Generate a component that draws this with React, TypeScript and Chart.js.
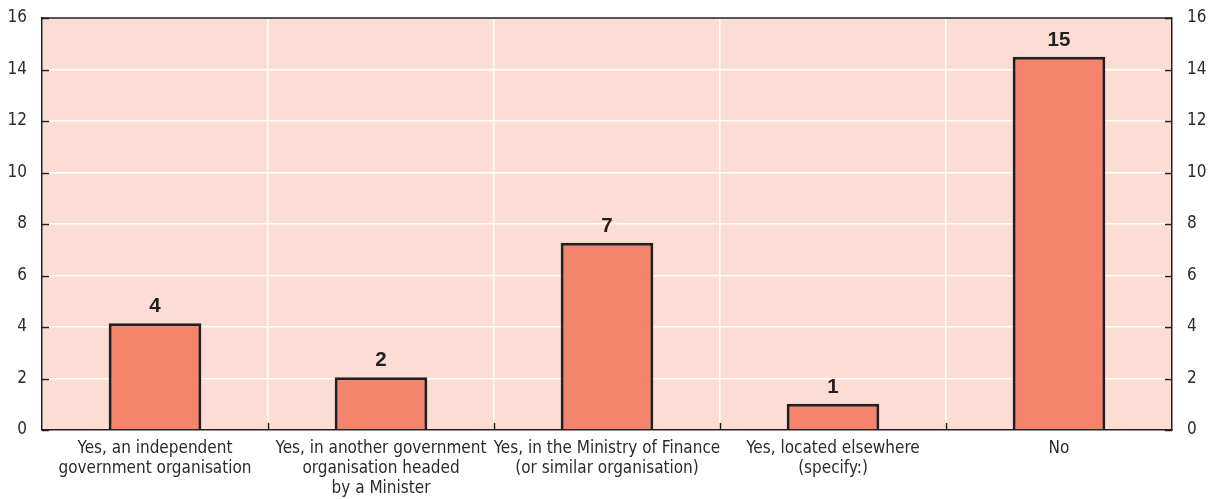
import React, { useEffect, useRef } from "react";
import { Chart, registerables } from "chart.js";

Chart.register(...registerables);

const categories: string[][] = [
  ["Yes, an independent", "government organisation"],
  ["Yes, in another government", "organisation headed", "by a Minister"],
  ["Yes, in the Ministry of Finance", "(or similar organisation)"],
  ["Yes, located elsewhere", "(specify:)"],
  ["No"],
];
const barValues: number[] = [4.15, 2.05, 7.27, 1.02, 14.5];
const barLabels: string[] = ["4", "2", "7", "1", "15"];
const yMin = 0;
const yMax = 16;
const yStep = 2;

const FONT = "'Liberation Sans Narrow', 'Arial Narrow', 'DejaVu Sans Condensed', sans-serif";
const BG = "#FCDDD3";
const BAR = "#F4846C";
const DARK = "#231F20";
const TEXT = "#2B2B2B";

export default function App() {
  const ref = useRef<HTMLCanvasElement | null>(null);

  useEffect(() => {
    if (!ref.current) return;
    document.body.style.margin = "0";

    const decor = {
      id: "decor",
      beforeDraw(chart: any) {
        const { ctx, chartArea: a } = chart;
        ctx.save();
        ctx.fillStyle = BG;
        ctx.fillRect(a.left, a.top, a.right - a.left, a.bottom - a.top);
        ctx.restore();
      },
      afterDraw(chart: any) {
        const { ctx, chartArea: a } = chart;
        const y = chart.scales.y;
        const x = chart.scales.x;
        ctx.save();
        ctx.strokeStyle = DARK;
        ctx.lineWidth = 1.5;
        ctx.beginPath();
        ctx.moveTo(a.left, a.top);
        ctx.lineTo(a.right, a.top);
        ctx.stroke();
        y.ticks.forEach((t: any) => {
          const py = Math.round(y.getPixelForValue(t.value)) + 0.5;
          ctx.beginPath();
          ctx.moveTo(a.left, py);
          ctx.lineTo(a.left + 7, py);
          ctx.moveTo(a.right, py);
          ctx.lineTo(a.right - 7, py);
          ctx.stroke();
        });
        for (let i = 1; i < categories.length; i++) {
          const px = Math.round((x.getPixelForValue(i - 1) + x.getPixelForValue(i)) / 2) + 0.5;
          ctx.beginPath();
          ctx.moveTo(px, a.bottom);
          ctx.lineTo(px, a.bottom - 7);
          ctx.stroke();
        }
        ctx.restore();
      },
      afterDatasetsDraw(chart: any) {
        const { ctx } = chart;
        const meta = chart.getDatasetMeta(0);
        ctx.save();
        ctx.fillStyle = DARK;
        ctx.font = "bold 20.5px 'Liberation Sans', Arial, sans-serif";
        ctx.textAlign = "center";
        ctx.textBaseline = "alphabetic";
        meta.data.forEach((el: any, i: number) => {
          ctx.fillText(barLabels[i], el.x, el.y - 11);
        });
        ctx.restore();
      },
    };

    const fitY = (w: number) => (s: any) => {
      s.width = w;
      s.paddingTop = 0;
      s.paddingBottom = 0;
    };

    const chart = new Chart(ref.current, {
      type: "bar",
      data: {
        labels: categories,
        datasets: [
          {
            data: barValues,
            backgroundColor: BAR,
            borderColor: DARK,
            borderWidth: 3,
            barPercentage: 0.41,
            categoryPercentage: 1,
          },
        ],
      },
      options: {
        responsive: false,
        animation: false,
        layout: { padding: { top: 18, left: 0, right: 0, bottom: 0 } },
        plugins: {
          legend: { display: false },
          tooltip: { enabled: false },
        },
        scales: {
          x: {
            offset: true,
            grid: { offset: true, color: "#FFFFFF", lineWidth: 1.5, drawTicks: false },
            border: { display: true, color: DARK, width: 1.5 },
            ticks: {
              color: TEXT,
              font: { family: FONT, size: 17 },
              padding: 8,
              maxRotation: 0,
              autoSkip: false,
            },
            afterFit: (s: any) => {
              s.height = 69;
              s.paddingLeft = 0;
              s.paddingRight = 0;
            },
          },
          y: {
            position: "left",
            min: yMin,
            max: yMax,
            grid: { color: "#FFFFFF", lineWidth: 1.5, drawTicks: false },
            border: { display: true, color: DARK, width: 1.5 },
            ticks: { stepSize: yStep, color: TEXT, font: { family: FONT, size: 17 }, padding: 15 },
            afterFit: fitY(42),
          },
          y2: {
            position: "right",
            min: yMin,
            max: yMax,
            grid: { display: false, drawTicks: false },
            border: { display: true, color: DARK, width: 1.5 },
            ticks: { stepSize: yStep, color: TEXT, font: { family: FONT, size: 17 }, padding: 15 },
            afterFit: fitY(41),
          },
        },
      },
      plugins: [decor],
    });
    return () => chart.destroy();
  }, []);

  return (
    <div style={{ position: "absolute", left: 0, top: 0, width: 1213, height: 499 }}>
      <canvas ref={ref} width={1213} height={499} />
    </div>
  );
}
